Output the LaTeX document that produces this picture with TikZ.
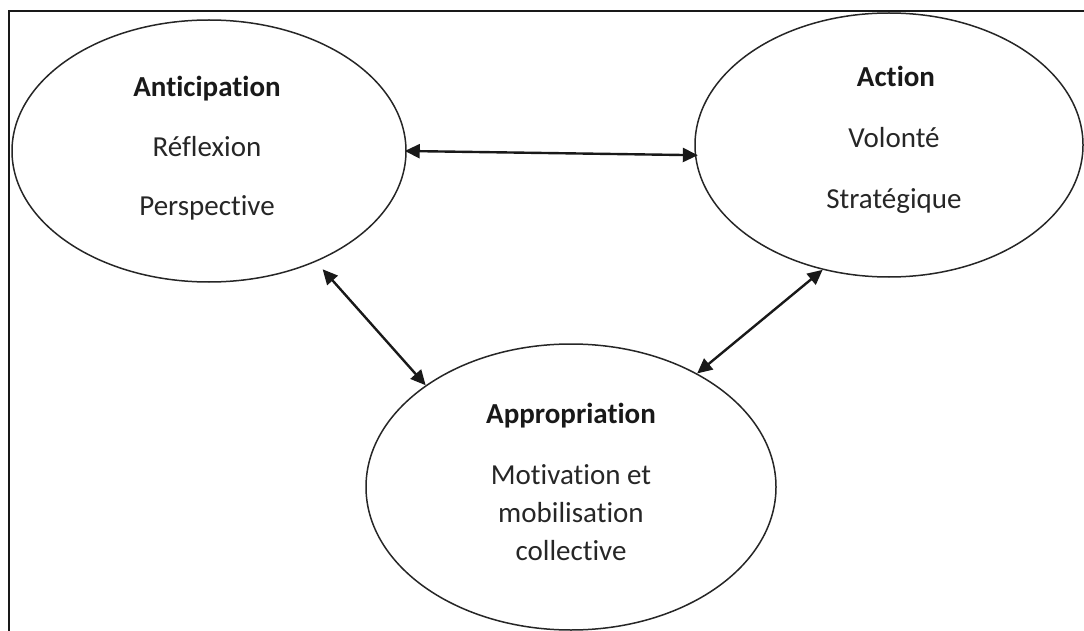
\documentclass[tikz,border=0pt]{standalone}
\usepackage{fontspec}
\setmainfont{Carlito}[Ligatures={NoCommon,NoContextual}]
\usetikzlibrary{arrows.meta,shapes.geometric}

\tikzset{
  bubble/.style={ellipse, draw=black!85, line width=1.5pt, inner sep=0pt},
  title/.style={anchor=base, font=\fontsize{29}{35}\selectfont\bfseries, text=black!90},
  body/.style={anchor=base, font=\fontsize{29}{35}\selectfont, text=black!85},
  link/.style={line width=2.4pt, draw=black!90,
    {Triangle[length=15pt,width=14pt]}-{Triangle[length=15pt,width=14pt]}},
}

\begin{document}
\begin{tikzpicture}[x=1pt,y=-1pt]
  \useasboundingbox (0,0) rectangle (1084,631);

  % outer frame (left and top edges)
  \draw[line width=2pt, black!90] (9,631) -- (9,11) -- (1084,11);

  % the three ellipses
  \node[bubble, minimum width=394pt, minimum height=262pt] (ant) at (209,151) {};
  \node[bubble, minimum width=388pt, minimum height=264pt] (act) at (889,145) {};
  \node[bubble, minimum width=410pt, minimum height=286pt] (app) at (571,487) {};

  % texts inside the ellipses
  \node[title] (antT) at (207,97)  {Anticipation};
  \node[body]  (antA) at (207,157) {Réflexion};
  \node[body]  (antB) at (207,215) {Perspective};

  \node[title] (actT) at (896,87)  {Action};
  \node[body]  (actA) at (894,148) {Volonté};
  \node[body]  (actB) at (894,208) {Stratégique};

  \node[title] (appT) at (571,423) {Appropriation};
  \node[body]  (appA) at (571,484) {Motivation et};
  \node[body]  (appB) at (571,522) {mobilisation};
  \node[body]  (appC) at (571,560) {collective};

  % double-headed links between the ellipses
  \draw[link, shorten <=-2pt, shorten >=-3pt] (ant.-0.3) -- (act.-177.9);
  \draw[link, shorten <=10pt] (ant.-46.3) -- (app.145.6);
  \draw[link] (act.-118.5) -- (app.42.2);
\end{tikzpicture}
\end{document}
